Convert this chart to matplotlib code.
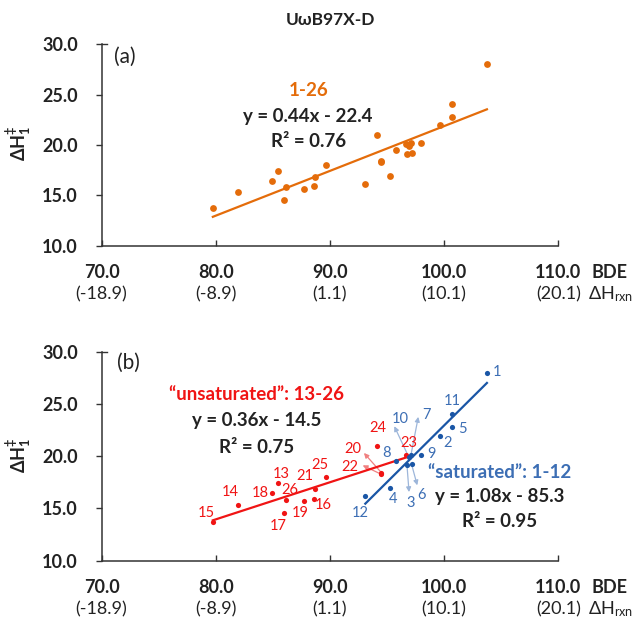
import numpy as np
import matplotlib
matplotlib.use("Agg")
import matplotlib.pyplot as plt
from matplotlib import transforms

plt.rcParams['font.family'] = ['Lato', 'DejaVu Sans']
plt.rcParams['mathtext.fontset'] = 'custom'
plt.rcParams['mathtext.rm'] = 'Lato'
plt.rcParams['mathtext.bf'] = 'Lato:bold'
plt.rcParams['mathtext.default'] = 'regular'

# ---------------- data ----------------
compound = list(range(1, 27))
bde = [103.75, 99.62, 96.75, 95.27, 100.65, 97.15, 97.10, 95.80, 97.98, 96.90,
       100.65, 93.10, 85.45, 81.95, 79.75, 88.58, 86.00, 84.95, 87.70, 94.50,
       88.72, 94.50, 96.68, 94.12, 89.62, 86.12]
dh1 = [28.02, 21.99, 19.14, 16.95, 22.80, 19.25, 20.15, 19.52, 20.18, 19.95,
       24.04, 16.15, 17.45, 15.30, 13.70, 15.90, 14.55, 16.45, 15.68, 18.45,
       16.85, 18.28, 20.12, 21.02, 18.05, 15.80]
saturated = list(range(1, 13))
unsaturated = list(range(13, 27))

xticks = [70.0, 80.0, 90.0, 100.0, 110.0]
xtick_bde = ['70.0', '80.0', '90.0', '100.0', '110.0']
xtick_rxn = ['(-18.9)', '(-8.9)', '(1.1)', '(10.1)', '(20.1)']
yticks = [10.0, 15.0, 20.0, 25.0, 30.0]
ytick_labels = ['10.0', '15.0', '20.0', '25.0', '30.0']

# label positions for panel (b) point numbers (data coords)
label_pos = {1: (104.6, 28.1), 2: (100.3, 21.25), 4: (95.55, 15.9), 5: (101.6, 22.6),
             8: (94.97, 20.35), 9: (98.9, 20.2), 11: (100.7, 25.3), 12: (92.65, 14.55),
             13: (85.7, 18.3), 14: (81.25, 16.6), 15: (79.15, 14.55), 16: (89.4, 15.35),
             17: (85.5, 13.3), 18: (83.9, 16.5), 19: (87.4, 14.6), 21: (87.8, 18.1),
             24: (94.2, 22.7), 25: (89.15, 19.2), 26: (86.45, 16.8), 23: (96.95, 21.3)}
# labels connected by arrows: (label position, arrow head position)
arrow_labels = {10: ((96.13, 23.6), (95.64, 22.9)), 7: ((98.45, 24.0), (97.74, 23.8)),
                3: ((97.08, 15.5), (96.93, 16.57)), 6: ((97.98, 16.25), (97.65, 17.22)),
                20: ((92.05, 20.75), (92.98, 20.33)), 22: ((91.76, 18.98), (92.87, 19.14))}

ORANGE = '#E46C0A'
RED = '#F01414'
BLUE = '#1A56A6'
BLUE_TXT = '#3C6EB4'
BLUE_ARR = '#9DB6DA'
RED_ARR = '#F08080'
AX = '#333333'
EQ_FS = 13.5

fig = plt.figure(figsize=(6.37, 6.24), dpi=100)
W, H = 637, 624
left = 101.5 / W
width = (558.3 - 101.5) / W
ax1 = fig.add_axes([left, 1 - 245.7 / H, width, (245.7 - 44.3) / H])
ax2 = fig.add_axes([left, 1 - 560.5 / H, width, (560.5 - 352.3) / H])

bde = np.array(bde)
dh1 = np.array(dh1)
idx_s = np.array(saturated) - 1
idx_u = np.array(unsaturated) - 1


def style(ax):
    ax.set_xlim(70, 110)
    ax.set_ylim(10, 30)
    for s in ['top', 'right']:
        ax.spines[s].set_visible(False)
    for s in ['left', 'bottom']:
        ax.spines[s].set_color(AX)
        ax.spines[s].set_linewidth(1.1)
    ax.set_yticks(yticks)
    ax.set_yticklabels(ytick_labels, fontsize=13, fontweight='bold', color='#222222')
    ax.tick_params(axis='y', direction='out', length=4, width=1.0, color=AX, pad=13)
    ax.set_xticks(xticks)
    ax.set_xticklabels([])
    ax.tick_params(axis='x', direction='in', length=4, width=1.0, color=AX)
    ax.plot([0, 0.012], [1, 1], transform=ax.transAxes, color=AX, lw=1.0, clip_on=False)
    trans = transforms.blended_transform_factory(ax.transData, ax.transAxes)
    t1 = transforms.offset_copy(trans, fig=fig, x=0, y=-19.5, units='points')
    t2 = transforms.offset_copy(trans, fig=fig, x=0, y=-35.0, units='points')
    for xv, a, b in zip(xticks, xtick_bde, xtick_rxn):
        ax.text(xv, 0, a, transform=t1, ha='center', va='center', fontsize=13,
                fontweight='bold', color='#222222', clip_on=False)
        ax.text(xv, 0, b, transform=t2, ha='center', va='center', fontsize=13,
                color='#222222', clip_on=False)
    ax.text(114.5, 0, 'BDE', transform=t1, ha='center', va='center', fontsize=13,
            fontweight='bold', color='#222222', clip_on=False)
    ax.text(114.6, 0, r'ΔH$_{rxn}$', transform=t2, ha='center', va='center', fontsize=13,
            color='#222222', clip_on=False)


def fitline(ax, x, y, color):
    p = np.polyfit(x, y, 1)
    xs = np.array([x.min(), x.max()])
    ax.plot(xs, np.polyval(p, xs), color=color, lw=1.6, zorder=2)


# ---------- panel (a) ----------
style(ax1)
ax1.scatter(bde, dh1, s=24, color=ORANGE, zorder=3, linewidths=0)
fitline(ax1, bde, dh1, ORANGE)
ax1.text(72.05, 28.75, '(a)', fontsize=15, ha='center', va='center', color='#222222')
ax1.text(88.1, 25.4, '1-26', fontsize=EQ_FS, fontweight='bold', color=ORANGE, ha='center', va='center')
ax1.text(88.1, 22.8, 'y = 0.44x - 22.4', fontsize=EQ_FS, fontweight='bold', color='#222222', ha='center', va='center')
ax1.text(88.1, 20.35, 'R² = 0.76', fontsize=EQ_FS, fontweight='bold', color='#222222', ha='center', va='center')

# ---------- panel (b) ----------
style(ax2)
fitline(ax2, bde[idx_u], dh1[idx_u], RED)
fitline(ax2, bde[idx_s], dh1[idx_s], BLUE)
ax2.scatter(bde[idx_u], dh1[idx_u], s=14, color=RED, zorder=3, linewidths=0)
ax2.scatter(bde[idx_s], dh1[idx_s], s=14, color=BLUE, zorder=3, linewidths=0)
for c, (lx, ly) in label_pos.items():
    col = BLUE_TXT if c in saturated else RED
    ax2.text(lx, ly, str(c), fontsize=10.5, color=col, ha='center', va='center')
for c, ((lx, ly), (hx, hy)) in arrow_labels.items():
    col = BLUE_TXT if c in saturated else RED
    acol = BLUE_ARR if c in saturated else RED_ARR
    ax2.annotate('', xy=(hx, hy), xytext=(bde[c - 1], dh1[c - 1]),
                 arrowprops=dict(arrowstyle='-|>', color=acol, lw=0.9, mutation_scale=7,
                                 shrinkA=0, shrinkB=0), zorder=1)
    ax2.text(lx, ly, str(c), fontsize=10.5, color=col, ha='center', va='center')

ax2.text(72.35, 29.0, '(b)', fontsize=15, ha='center', va='center', color='#222222')
ax2.text(83.6, 25.9, '\u201cunsaturated\u201d: 13-26', fontsize=EQ_FS, fontweight='bold', color=RED, ha='center', va='center')
ax2.text(83.6, 23.45, 'y = 0.36x - 14.5', fontsize=EQ_FS, fontweight='bold', color='#222222', ha='center', va='center')
ax2.text(83.6, 20.9, 'R² = 0.75', fontsize=EQ_FS, fontweight='bold', color='#222222', ha='center', va='center')
ax2.text(104.9, 18.5, '\u201csaturated\u201d: 1-12', fontsize=EQ_FS, fontweight='bold', color=BLUE_TXT, ha='center', va='center')
ax2.text(104.9, 16.1, 'y = 1.08x - 85.3', fontsize=EQ_FS, fontweight='bold', color='#222222', ha='center', va='center')
ax2.text(104.9, 13.7, 'R² = 0.95', fontsize=EQ_FS, fontweight='bold', color='#222222', ha='center', va='center')

# titles / y labels
fig.text(330 / W, 1 - 20 / H, 'UωB97X-D', fontsize=12.5, fontweight='bold', ha='center', va='center', color='#222222')
for yc in (143.3, 455.0):
    fig.text(18.5 / W, 1 - yc / H, r'$\mathbf{ΔH_{1}^{‡}}$', fontsize=13, rotation=90,
             ha='center', va='center', color='#222222')

fig.savefig('out.png', dpi=100, facecolor='white')
